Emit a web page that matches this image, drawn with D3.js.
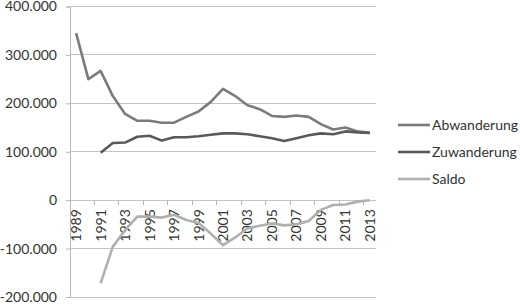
<!DOCTYPE html>
<html>
<head>
<meta charset="utf-8">
<script src="https://cdn.jsdelivr.net/npm/d3@7"></script>
<style>
  html, body { margin: 0; padding: 0; background: #fff; }
  svg { display: block; }
  text { font-family: Lato, "Open Sans", sans-serif; fill: #333; }
</style>
</head>
<body>
<div id="lineChart"></div>
<script>
// Wanderungen: Abwanderung, Zuwanderung, Saldo 1989-2013

const years = d3.range(1989, 2014);
const abwanderung = [345000, 250000, 267000, 215000, 178000, 164000, 164000, 160000, 160000, 172000,
  183000, 203000, 230000, 215000, 196000, 188000, 174000, 172000, 175000, 172000,
  157000, 146000, 150000, 142000, 139000];
const zuwanderung = [null, null, 98000, 118000, 119000, 131000, 133000, 123000, 130000, 130000,
  132000, 135000, 138000, 138000, 136000, 132000, 128000, 122000, 128000, 134000,
  138000, 136000, 142000, 140000, 139000];
const saldo = [null, null, -172000, -96000, -62000, -34000, -34000, -36000, -30000, -41000,
  -47000, -69000, -93000, -77000, -58000, -53000, -48000, -52000, -50000, -43000,
  -20000, -10000, -9000, -3000, 0];
const yTicks = [400000, 300000, 200000, 100000, 0, -100000, -200000];
const seriesNames = ["Abwanderung", "Zuwanderung", "Saldo"];
const seriesColors = ["#7b7b7b", "#5a5a5a", "#b0b0b0"];

const width = 520, height = 304;
const plot = { left: 70, right: 376, top: 6.5, bottom: 297 };

const svg = d3.select("#lineChart").append("svg")
  .attr("width", width)
  .attr("height", height);

const x = d3.scaleBand().domain(years).range([plot.left, plot.right]).padding(0);
const y = d3.scaleLinear().domain([-200000, 400000]).range([plot.bottom, plot.top]);
const fmt = v => v === 0 ? "0" : d3.format(",")(v).replace(/,/g, ".").replace("−", "-");

// gridlines
svg.append("g")
  .selectAll("line")
  .data(yTicks)
  .join("line")
  .attr("x1", plot.left).attr("x2", plot.right)
  .attr("y1", d => y(d)).attr("y2", d => y(d))
  .attr("stroke", "#c4c4c4")
  .attr("stroke-width", 1)
  .attr("shape-rendering", "crispEdges");

// y axis
const yAxis = svg.append("g")
  .attr("transform", `translate(${plot.left},0)`)
  .call(d3.axisLeft(y).tickValues(yTicks).tickSize(4).tickPadding(9).tickFormat(fmt));
yAxis.select(".domain").attr("stroke", "#b8b8b8");
yAxis.selectAll(".tick line").attr("stroke", "#b8b8b8");
yAxis.selectAll("text")
  .style("font-size", "14px")
  .style("font-family", "Lato, 'Open Sans', sans-serif")
  .attr("fill", "#333");

// x axis at zero
const x0 = y(0);
const boundaries = d3.range(0, years.length + 1, 2).map(i => plot.left + i * x.bandwidth());
svg.append("g")
  .selectAll("line")
  .data(boundaries)
  .join("line")
  .attr("x1", d => d).attr("x2", d => d)
  .attr("y1", x0).attr("y2", x0 + 5)
  .attr("stroke", "#b8b8b8")
  .attr("shape-rendering", "crispEdges");

svg.append("g")
  .selectAll("text")
  .data(years.filter((d, i) => i % 2 === 0))
  .join("text")
  .attr("transform", d => `translate(${x(d) + x.bandwidth() / 2 + 5},${x0 + 9}) rotate(-90)`)
  .attr("text-anchor", "end")
  .style("font-size", "14px")
  .text(d => d);

// lines
const series = [abwanderung, zuwanderung, saldo];
const line = d3.line()
  .defined(d => d != null)
  .x((d, i) => x(years[i]) + x.bandwidth() / 2)
  .y(d => y(d));

svg.append("g")
  .selectAll("path")
  .data(series)
  .join("path")
  .attr("d", d => line(d))
  .attr("fill", "none")
  .attr("stroke", (d, i) => seriesColors[i])
  .attr("stroke-width", 2.6)
  .attr("stroke-linejoin", "round");

// legend
const legend = svg.append("g");
const legendRows = [125, 152, 179];
seriesNames.forEach((name, i) => {
  legend.append("line")
    .attr("x1", 398).attr("x2", 430)
    .attr("y1", legendRows[i]).attr("y2", legendRows[i])
    .attr("stroke", seriesColors[i])
    .attr("stroke-width", 2.6);
  legend.append("text")
    .attr("x", 432)
    .attr("y", legendRows[i])
    .attr("dy", "0.35em")
    .style("font-size", "14px")
    .text(name);
});
</script>
</body>
</html>
